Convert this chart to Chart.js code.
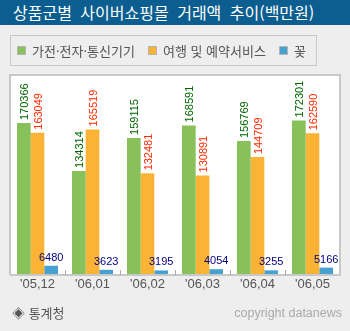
<!DOCTYPE html>
<html lang="ko">
<head>
<meta charset="utf-8">
<script src="https://cdn.jsdelivr.net/npm/chart.js@4.4.0/dist/chart.umd.min.js"></script>
<style>
  html, body { margin: 0; padding: 0; }
  body {
    width: 350px; height: 331px; background: #eeeeee;
    position: relative; overflow: hidden;
    font-family: "Noto Sans CJK KR", sans-serif;
  }
  .title {
    position: absolute; left: 0; top: 0; width: 350px; height: 25px;
    background: #0b5e8f; color: #fff; font-size: 16px; line-height: 25px;
    padding-left: 13px; box-sizing: border-box; white-space: nowrap;
    word-spacing: 4px;
  }
  #wrap { position: absolute; left: 0; top: 0; width: 350px; height: 331px; }
  .legend {
    position: absolute; left: 10px; top: 35px; width: 307px; height: 31px;
    border: 1px solid #c8c8c8; box-sizing: border-box;
    display: flex; align-items: center; padding-left: 6px;
    font-size: 13px; color: #555; white-space: nowrap;
  }
  .legend .item { display: flex; align-items: center; margin-right: 13px; }
  .legend i { display: block; width: 7px; height: 7px; border: 1px solid #b4b4b4; margin-right: 6px; }
  .source { position: absolute; left: 12px; top: 303px; font-size: 13px; color: #555; }
  .copy {
    position: absolute; right: 8px; top: 306px; font-size: 12.5px; color: #aaa;
    font-family: "Liberation Sans", sans-serif;
  }
</style>
</head>
<body>
<div class="title">상품군별 사이버쇼핑몰 거래액 추이(백만원)</div>
<div id="wrap"><canvas id="chart"></canvas></div>
<div class="legend" id="legend"></div>
<div class="source">◈ 통계청</div>
<div class="copy">copyright datanews</div>
<script>
// 월별 상품군 거래액 (백만원)
const months = ["'05,12", "'06,01", "'06,02", "'06,03", "'06,04", "'06,05"];
const seriesNames = ['가전·전자·통신기기', '여행 및 예약서비스', '꽃'];
const electronics = [170366, 134314, 159115, 168591, 156769, 172301];
const travel = [163049, 165519, 132481, 130891, 144709, 162590];
const flowers = [6480, 3623, 3195, 4054, 3255, 5166];

const barColors = ['#88c05a', '#fbb335', '#46a0d2'];
const labelColors = ['#006600', '#ff2a00', '#000080'];

// white plot box, frame and the small ticks between months
const frame = {
  id: 'frame',
  beforeDatasetsDraw(chart) {
    const { ctx, chartArea: a } = chart;
    ctx.save();
    ctx.fillStyle = '#ffffff';
    ctx.fillRect(a.left, a.top, a.right - a.left, a.bottom - a.top);
    ctx.restore();
  },
  afterDatasetsDraw(chart) {
    const { ctx, chartArea: a, scales } = chart;
    ctx.save();
    ctx.strokeStyle = '#c8c8c8';
    ctx.lineWidth = 2;
    ctx.beginPath();
    ctx.moveTo(a.left, a.bottom);
    ctx.lineTo(a.left, a.top);
    ctx.lineTo(a.right, a.top);
    ctx.lineTo(a.right, a.bottom);
    ctx.lineTo(a.left, a.bottom);
    ctx.stroke();
    ctx.lineWidth = 1;
    ctx.strokeStyle = '#aaaaaa';
    for (let i = 1; i < months.length; i++) {
      const x = Math.round((scales.x.getPixelForValue(i - 1) + scales.x.getPixelForValue(i)) / 2) + 0.5;
      ctx.beginPath();
      ctx.moveTo(x, a.bottom - 5);
      ctx.lineTo(x, a.bottom);
      ctx.stroke();
    }
    ctx.restore();
  }
};

// value labels: vertical for the two big series, flat for flowers
const valueLabels = {
  id: 'valueLabels',
  afterDatasetsDraw(chart) {
    const { ctx } = chart;
    ctx.save();
    ctx.font = '11px "Liberation Sans", sans-serif';
    chart.data.datasets.forEach((ds, di) => {
      const meta = chart.getDatasetMeta(di);
      meta.data.forEach((bar, i) => {
        const text = String(ds.data[i]);
        ctx.fillStyle = labelColors[di];
        if (di < 2) {
          ctx.save();
          ctx.translate(bar.x + 1, bar.y - 3);
          ctx.rotate(-Math.PI / 2);
          ctx.textAlign = 'left';
          ctx.textBaseline = 'middle';
          ctx.fillText(text, 0, 0);
          ctx.restore();
        } else {
          ctx.textAlign = 'center';
          ctx.textBaseline = 'alphabetic';
          ctx.fillText(text, bar.x, bar.y - 5);
        }
      });
    });
    ctx.restore();
  }
};

const chart = new Chart(document.getElementById('chart'), {
  type: 'bar',
  data: {
    labels: months,
    datasets: [
      { label: seriesNames[0], data: electronics, backgroundColor: barColors[0], yAxisID: 'y' },
      { label: seriesNames[1], data: travel, backgroundColor: barColors[1], yAxisID: 'y' },
      { label: seriesNames[2], data: flowers, backgroundColor: barColors[2], yAxisID: 'y1' },
    ],
  },
  options: {
    responsive: true,
    maintainAspectRatio: false,
    animation: false,
    layout: { padding: { top: 75, left: 10, right: 10, bottom: 36.4 } },
    datasets: { bar: { barPercentage: 1, categoryPercentage: 0.745, borderWidth: 0 } },
    plugins: { legend: { display: false }, title: { display: false }, tooltip: { enabled: false } },
    scales: {
      x: {
        grid: { display: false, drawTicks: false },
        border: { display: false },
        ticks: { color: '#555', padding: 2, font: { size: 13, family: '"Liberation Sans", sans-serif' } },
      },
      y: { display: false, min: 56000, max: 206500 },
      y1: { display: false, min: 0, max: 140000 },
    },
  },
  plugins: [frame, valueLabels],
});

// legend box built from the datasets
const legendEl = document.getElementById('legend');
chart.data.datasets.forEach((ds) => {
  const item = document.createElement('span');
  item.className = 'item';
  const sw = document.createElement('i');
  sw.style.background = ds.backgroundColor;
  item.appendChild(sw);
  item.appendChild(document.createTextNode(ds.label));
  legendEl.appendChild(item);
});
</script>
</body>
</html>
